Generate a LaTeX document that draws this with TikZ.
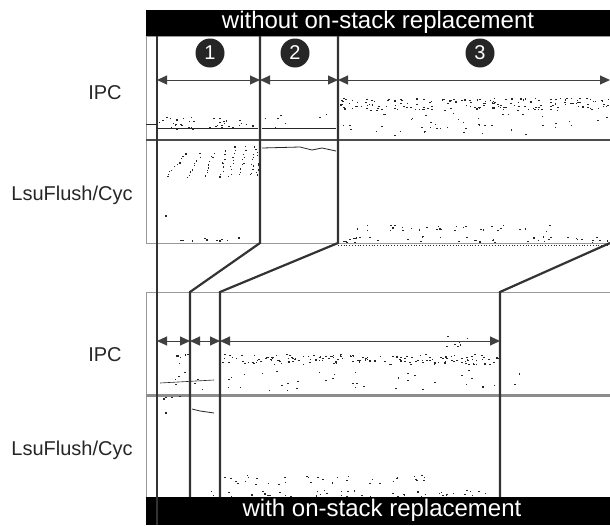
\documentclass[tikz,border=0pt]{standalone}
\usepackage{fontspec}
\setmainfont{Liberation Sans}
\usetikzlibrary{positioning,arrows.meta,calc}

% scatter of sample points: x0, x1, y centre, y spread, count
\newcommand\dotband[5]{%
  \foreach \k in {1,...,#5}{%
    \pgfmathsetmacro\px{#1+(#2-#1)*rnd}%
    \pgfmathsetmacro\py{#3+#4*rand}%
    \fill[black!85] (\px,\py) rectangle ++(1.6,1.1);}}

\begin{document}
\begin{tikzpicture}[x=1pt,y=-1pt,
    phase/.style={draw=black!80,line width=2.2pt},
    span/.style={draw=black!75,line width=1pt,
      {Triangle[length=10pt,width=9pt]}-{Triangle[length=10pt,width=9pt]}},
    frame/.style={draw=black!40,line width=0.9pt},
    trace/.style={draw=black!85,line width=0.8pt},
    bar/.style={text=white,font=\fontsize{24}{24}\selectfont},
    metric/.style={text=black!85,font=\fontsize{20}{20}\selectfont}]
  \useasboundingbox (0,0) rectangle (610,525);
  \pgfmathsetseed{11}

  % black title bars
  \fill[black] (146,10) rectangle (610,36);
  \fill[black] (146,497) rectangle (610,525);
  \node[bar] (top) at (378,22) {without on-stack replacement};
  \node[bar] (bottom) at (382,510) {with on-stack replacement};

  % metric names
  \node[metric] (ipcA) at (105,93) {IPC};
  \node[metric] (lsuA) at (72,195) {LsuFlush/Cyc};
  \node[metric] (ipcB) at (105,355) {IPC};
  \node[metric] (lsuB) at (72,450) {LsuFlush/Cyc};

  % panel frames
  \draw[frame] (610,36) -- (146,36) -- (146,243) -- (610,243);
  \draw[frame] (610,292) -- (146,292) -- (146,497);
  \draw[draw=black!70,line width=2.5pt] (146,140) -- (610,140);
  \draw[draw=black!45,line width=3pt] (146,395) -- (610,395);

  % top IPC traces
  \draw[trace] (146,124) -- (157,124);
  \draw[trace] (157,128) -- (258,128);
  \draw[trace,line width=0.6pt] (262,128) -- (336,128);
  \dotband{158}{258}{123}{7}{40}
  \dotband{262}{336}{121}{8}{8}
  \dotband{340}{610}{104}{6}{170}
  \dotband{340}{610}{124}{11}{45}

  % top LsuFlush traces
  \foreach \xa/\ya/\xb/\yb in {166/175/186/152, 187/177/202/150, 205/177/214/150,
      220/176/226/146, 229/176/236/144, 240/175/246/144, 250/175/255/144, 256/175/259/143}{
    \foreach \t in {0,0.1,...,1}{
      \fill[black!85] ($(\xa,\ya)!\t!(\xb,\yb)+(rand*1.5,rand*1.5)$) rectangle ++(1.2,1.2);}}
  \fill[black!85] (165,215) rectangle ++(1.5,1.5);
  \draw[trace] (262,148) -- (300,147) -- (312,150) -- (322,148) -- (336,151);
  \dotband{157}{258}{239}{2}{10}
  \dotband{345}{560}{228}{3}{30}
  \dotband{338}{610}{239}{3}{40}
  \draw[trace,dotted,line width=0.6pt] (338,245) -- (610,245);

  % bottom IPC traces
  \draw[trace,line width=0.6pt] (160,383) -- (214,380);
  \dotband{176}{188}{358}{5}{6}
  \dotband{220}{500}{359}{5}{160}
  \dotband{157}{520}{380}{10}{45}
  \dotband{430}{470}{340}{6}{8}

  % bottom LsuFlush traces
  \dotband{163}{182}{398}{2}{5}
  \draw[trace] (192,409) -- (200,411) -- (214,413);
  \fill[black!85] (165,412) rectangle ++(1.5,1.5);
  \dotband{215}{425}{480}{5}{35}
  \dotband{165}{500}{493}{3}{45}

  % phase boundaries
  \coordinate (s0) at (157,36);
  \coordinate (s1) at (260,36);
  \coordinate (s2) at (338,36);
  \coordinate (e1) at (260,243);
  \coordinate (e2) at (338,243);
  \coordinate (e3) at (610,243);
  \coordinate (o1) at (190,292);
  \coordinate (o2) at (220,292);
  \coordinate (o3) at (500,292);
  \draw[draw=black!80,line width=1.4pt] (s0) -- (157,525);
  \draw[phase] (s1) -- (e1) -- (o1) -- (190,497);
  \draw[phase] (s2) -- (e2) -- (o2) -- (220,497);
  \draw[phase] (e3) -- (o3) -- (500,497);

  % phase numbers
  \begin{scope}[every node/.style={circle,fill=black!85,text=white,minimum size=29pt,
      inner sep=0pt,font=\fontsize{20}{20}\selectfont}]
    \node (p1) at (210,53) {1};
    \node (p2) at (295,53) {2};
    \node (p3) at (480,53) {3};
  \end{scope}

  % phase lengths
  \coordinate (a0) at (157,80);
  \coordinate (a1) at (260,80);
  \coordinate (a2) at (338,80);
  \coordinate (a3) at (610,80);
  \coordinate (b0) at (157,341);
  \coordinate (b1) at (190,341);
  \coordinate (b2) at (220,341);
  \coordinate (b3) at (500,341);
  \begin{scope}[every edge/.style={span}]
    \path (a0) edge (a1);
    \path (a1) edge (a2);
    \path (a2) edge (a3);
    \path (b0) edge (b1);
    \path (b1) edge (b2);
    \path (b2) edge (b3);
  \end{scope}
\end{tikzpicture}
\end{document}
